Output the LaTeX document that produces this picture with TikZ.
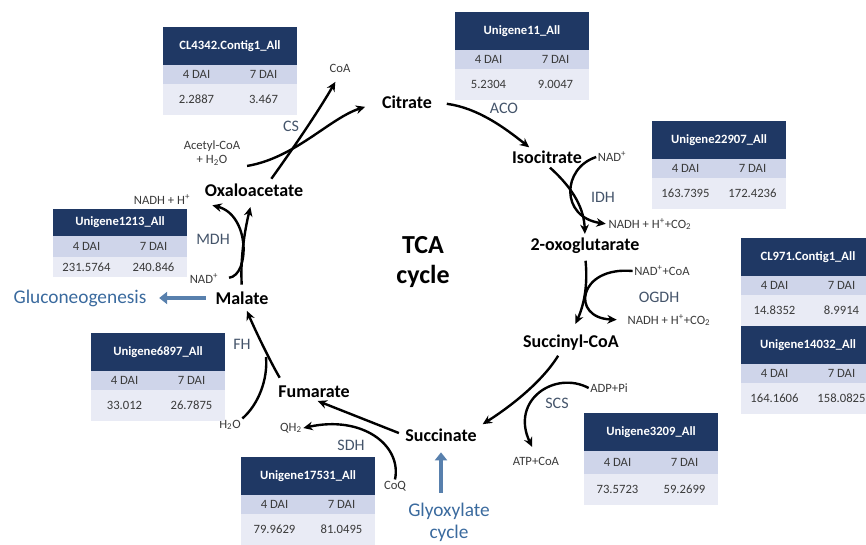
\documentclass[tikz,border=0pt]{standalone}
\usepackage{fontspec}
\setmainfont{Carlito}
\usepackage{xcolor}
\usepackage{tikz}
\usetikzlibrary{positioning,arrows.meta}
\definecolor{navy}{HTML}{1F3864}
\definecolor{lav}{HTML}{CFD5EA}
\definecolor{pale}{HTML}{E9EBF5}
\definecolor{enzgrey}{HTML}{44546A}
\definecolor{cellgrey}{HTML}{3A3A3A}
\definecolor{flowblue}{HTML}{3A6A9E}

\begin{document}
\begin{tikzpicture}[x=0.75pt, y=-0.75pt,
	met/.style={inner sep=1pt, font=\fontsize{13.5}{16}\selectfont\bfseries},
	enz/.style={inner sep=1pt, text=enzgrey, font=\fontsize{12}{14}\selectfont},
	cof/.style={inner sep=1pt, text=cellgrey, align=center, font=\fontsize{9.5}{10.5}\selectfont},
	hdr/.style={fill=navy, text=white, outer sep=0pt, inner sep=0pt, minimum width=100.5pt, minimum height=28.5pt, font=\fontsize{9.5}{11}\selectfont\bfseries},
	dai/.style={fill=lav, text=cellgrey, outer sep=0pt, inner sep=0pt, minimum width=50.25pt, minimum height=14.25pt, font=\fontsize{9.5}{11}\selectfont},
	val/.style={fill=pale, text=cellgrey, outer sep=0pt, inner sep=0pt, minimum width=50.25pt, minimum height=23.25pt, font=\fontsize{9.5}{11}\selectfont},
	react/.style={line width=1.8pt, -{Stealth[length=7pt, width=6.5pt]}},
	flow/.style={draw=flowblue!85, line width=3.5pt, -{Triangle[length=6pt, width=9pt]}}]
	\useasboundingbox (0,0) rectangle (866,544);

	% metabolites
	\node[met] (cit) at (407,102) {Citrate};
	\node[met] (iso) at (547,157) {Isocitrate};
	\node[met] (oxo) at (585,246) {2-oxoglutarate};
	\node[met] (sca) at (571,343) {Succinyl-CoA};
	\node[met] (suc) at (441,435) {Succinate};
	\node[met] (fum) at (314,392) {Fumarate};
	\node[met] (mal) at (242,298) {Malate};
	\node[met] (oaa) at (254,190) {Oxaloacetate};
	\node[align=center, font=\fontsize{19.5}{23}\selectfont\bfseries] (tca) at (423,262) {TCA\\cycle};

	% enzymes
	\node[enz] (cs) at (291,126) {CS};
	\node[enz] (aco) at (504,108) {ACO};
	\node[enz] (idh) at (603,197) {IDH};
	\node[enz] (ogdh) at (659,297) {OGDH};
	\node[enz] (scs) at (557,403) {SCS};
	\node[enz] (sdh) at (351,445) {SDH};
	\node[enz] (fh) at (242,344) {FH};
	\node[enz] (mdh) at (213,239) {MDH};

	% cofactors
	\node[cof] (coa) at (340,68) {CoA};
	\node[cof] (acoa) at (212,153) {Acetyl-CoA\\+ H\textsubscript{2}O};
	\node[cof] (nad1) at (612,157) {NAD\textsuperscript{+}};
	\node[cof] (nadh1) at (650,224) {NADH + H\textsuperscript{+}+CO\textsubscript{2}};
	\node[cof] (ncoa) at (662,271) {NAD\textsuperscript{+}+CoA};
	\node[cof] (nadh2) at (669,320) {NADH + H\textsuperscript{+}+CO\textsubscript{2}};
	\node[cof] (adp) at (609,388) {ADP+Pi};
	\node[cof] (atp) at (536,461) {ATP+CoA};
	\node[cof] (coq) at (395,486) {CoQ};
	\node[cof] (qh2) at (291,428) {QH\textsubscript{2}};
	\node[cof] (h2o) at (230,425) {H\textsubscript{2}O};
	\node[cof] (nad2) at (204,279) {NAD\textsuperscript{+}};
	\node[cof] (nadh3) at (162,200) {NADH + H\textsuperscript{+}};

	% side pathways
	\node[text=flowblue, font=\fontsize{14.5}{16}\selectfont] (glu) at (80,298) {Gluconeogenesis};
	\node[text=flowblue, align=center, font=\fontsize{14.5}{16.5}\selectfont] (gly) at (449,522) {Glyoxylate\\cycle};

	% expression tables
	\node[hdr, anchor=north west] (cl4342) at (163,27) {CL4342.Contig1\_All};
	\node[dai, below right=0pt of cl4342.south west] (cl4342a) {4 DAI};
	\node[dai, right=0pt of cl4342a] (cl4342b) {7 DAI};
	\node[val, below=0pt of cl4342a] (cl4342c) {2.2887};
	\node[val, right=0pt of cl4342c] (cl4342d) {3.467};

	\node[hdr, anchor=north west] (ug11) at (455,12) {Unigene11\_All};
	\node[dai, below right=0pt of ug11.south west] (ug11a) {4 DAI};
	\node[dai, right=0pt of ug11a] (ug11b) {7 DAI};
	\node[val, below=0pt of ug11a] (ug11c) {5.2304};
	\node[val, right=0pt of ug11c] (ug11d) {9.0047};

	\node[hdr, anchor=north west] (ug22907) at (652,121) {Unigene22907\_All};
	\node[dai, below right=0pt of ug22907.south west] (ug22907a) {4 DAI};
	\node[dai, right=0pt of ug22907a] (ug22907b) {7 DAI};
	\node[val, below=0pt of ug22907a] (ug22907c) {163.7395};
	\node[val, right=0pt of ug22907c] (ug22907d) {172.4236};

	\node[hdr, anchor=north west] (cl971) at (741,238) {CL971.Contig1\_All};
	\node[dai, below right=0pt of cl971.south west] (cl971a) {4 DAI};
	\node[dai, right=0pt of cl971a] (cl971b) {7 DAI};
	\node[val, below=0pt of cl971a] (cl971c) {14.8352};
	\node[val, right=0pt of cl971c] (cl971d) {8.9914};

	\node[hdr, below right=0pt of cl971c.south west] (ug14032) {Unigene14032\_All};
	\node[dai, below right=0pt of ug14032.south west] (ug14032a) {4 DAI};
	\node[dai, right=0pt of ug14032a] (ug14032b) {7 DAI};
	\node[val, below=0pt of ug14032a] (ug14032c) {164.1606};
	\node[val, right=0pt of ug14032c] (ug14032d) {158.0825};

	\node[hdr, anchor=north west, minimum height=20.25pt] (ug1213) at (53,209) {Unigene1213\_All};
	\node[dai, minimum height=15.75pt, below right=0pt of ug1213.south west] (ug1213a) {4 DAI};
	\node[dai, minimum height=15.75pt, right=0pt of ug1213a] (ug1213b) {7 DAI};
	\node[val, minimum height=15pt, below=0pt of ug1213a] (ug1213c) {231.5764};
	\node[val, minimum height=15pt, right=0pt of ug1213c] (ug1213d) {240.846};

	\node[hdr, anchor=north west] (ug6897) at (91,333) {Unigene6897\_All};
	\node[dai, below right=0pt of ug6897.south west] (ug6897a) {4 DAI};
	\node[dai, right=0pt of ug6897a] (ug6897b) {7 DAI};
	\node[val, below=0pt of ug6897a] (ug6897c) {33.012};
	\node[val, right=0pt of ug6897c] (ug6897d) {26.7875};

	\node[hdr, anchor=north west] (ug17531) at (241,457) {Unigene17531\_All};
	\node[dai, below right=0pt of ug17531.south west] (ug17531a) {4 DAI};
	\node[dai, right=0pt of ug17531a] (ug17531b) {7 DAI};
	\node[val, below=0pt of ug17531a] (ug17531c) {79.9629};
	\node[val, right=0pt of ug17531c] (ug17531d) {81.0495};

	\node[hdr, anchor=north west] (ug3209) at (584,413) {Unigene3209\_All};
	\node[dai, minimum height=17.25pt, below right=0pt of ug3209.south west] (ug3209a) {4 DAI};
	\node[dai, minimum height=17.25pt, right=0pt of ug3209a] (ug3209b) {7 DAI};
	\node[val, below=0pt of ug3209a] (ug3209c) {73.5723};
	\node[val, right=0pt of ug3209c] (ug3209d) {59.2699};

	% reactions
	\draw[react, shorten <=4pt, shorten >=12pt] (acoa.south east) .. controls (295,158) and (330,118) .. (cit.west);
	\draw[react, shorten <=3pt, shorten >=7pt] (oaa.28) .. controls (292,150) and (318,112) .. (coa.south);
	\draw[react, shorten <=10pt, shorten >=2pt] (cit.east) .. controls (478,108) and (505,128) .. (iso.153);
	\draw[react, shorten <=3pt, shorten >=2pt] (iso.south) .. controls (575,190) and (584,210) .. (oxo.north);
	\draw[react, shorten >=1pt] (nad1.west) .. controls (562,168) and (560,217) .. (nadh1.west);
	\draw[react, shorten <=4pt, shorten >=8pt] (oxo.south) .. controls (588,285) and (584,305) .. (sca.north);
	\draw[react, shorten >=7pt] (ncoa.west) .. controls (578,266) and (570,318) .. (nadh2.west);
	\draw[react, shorten <=3pt, shorten >=4pt] (sca.-139) .. controls (540,385) and (505,410) .. (suc.north east);
	\draw[react, shorten >=7pt] (adp.west) .. controls (555,370) and (510,400) .. (atp.north);
	\draw[react, shorten <=4pt, shorten >=3pt] (suc.west) -- (fum.south);
	\draw[react] (coq.north) .. controls (402,445) and (362,415) .. (qh2.east);
	\draw[react, shorten <=6pt, shorten >=4pt] (fum.166) .. controls (272,365) and (255,330) .. (mal.-70);
	\coordinate (fhj) at (266,357);
	\draw[line width=1.8pt] (h2o.north east) .. controls (258,405) and (268,380) .. (fhj);
	\draw[react, shorten <=4pt, shorten >=7pt] (mal.north) .. controls (240,255) and (246,225) .. (oaa.-100);
	\draw[react, shorten <=7pt, shorten >=16pt] (nad2.east) .. controls (250,275) and (250,215) .. (nadh3.east);

	% links out of the cycle
	\draw[flow, shorten <=6pt, shorten >=6pt] (mal.west) -- (glu.east);
	\draw[flow, shorten <=4pt, shorten >=7pt] (suc.south |- gly.north) -- (suc.south);
\end{tikzpicture}
\end{document}
